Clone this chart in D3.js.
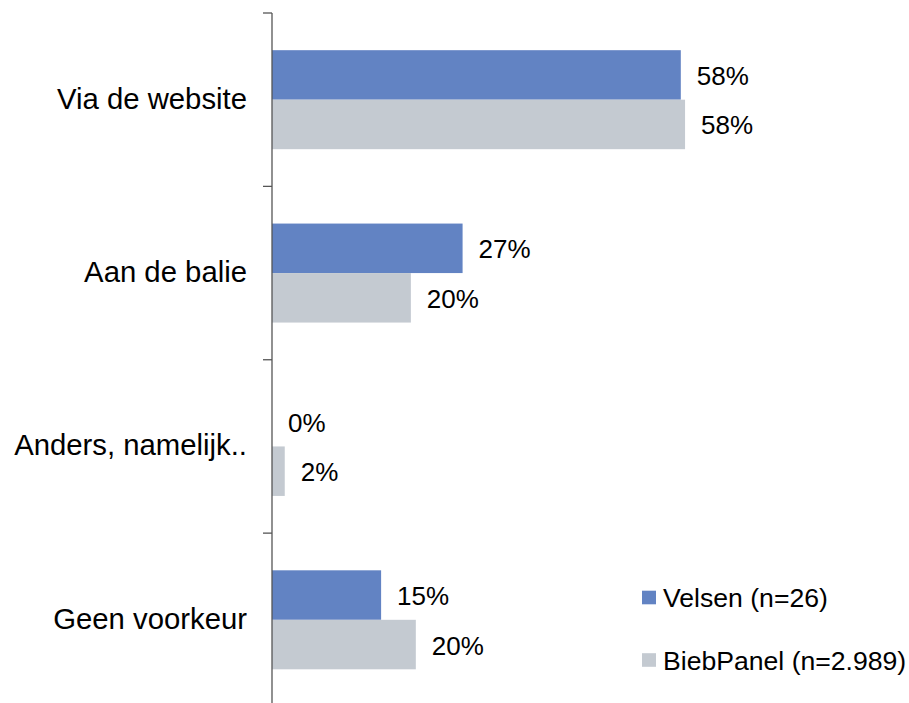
<!DOCTYPE html>
<html>
<head>
<meta charset="utf-8">
<script src="https://cdn.jsdelivr.net/npm/d3@7/dist/d3.min.js"></script>
<style>
  html, body { margin: 0; padding: 0; background: #fff; }
  svg { display: block; font-family: "Liberation Sans", Arial, sans-serif; }
</style>
</head>
<body>
<svg id="chart" width="909" height="703"></svg>
<script>
// ---- data ----
const categories = ["Via de website", "Aan de balie", "Anders, namelijk..", "Geen voorkeur"];
const velsen = [57.7, 26.9, 0, 15.4];
const biebpanel = [58.3, 19.6, 1.8, 20.3];
const seriesNames = ["Velsen (n=26)", "BiebPanel (n=2.989)"];
const seriesColors = ["#6283C3", "#C4CAD1"];

// ---- layout ----
const svg = d3.select("#chart");
const axisX = 272;
const y = d3.scaleBand().domain(categories).range([13, 706.5]).paddingInner(0).paddingOuter(0);
const x = d3.scaleLinear().domain([0, 60]).range([axisX, axisX + 425.1]);

const groupH = 99;
const barH = groupH / 2;

const rows = categories.map((c, i) => ({ c, vals: [velsen[i], biebpanel[i]] }));

const g = svg.append("g");
rows.forEach(r => {
  const top = y(r.c) + (y.bandwidth() - groupH) / 2;
  r.vals.forEach((v, s) => {
    const by = top + s * barH;
    if (v > 0) {
      g.append("rect")
        .attr("x", x(0))
        .attr("y", by)
        .attr("width", x(v) - x(0))
        .attr("height", barH)
        .attr("fill", seriesColors[s]);
    }
    g.append("text")
      .attr("x", x(v) + 16)
      .attr("y", by + barH / 2 + 10)
      .attr("font-size", 26)
      .attr("fill", "#000")
      .text(Math.round(v) + "%");
  });
});

// axis with ticks at band boundaries
const axG = svg.append("g").attr("transform", `translate(${axisX},0)`);
axG.append("line").attr("x1", 0).attr("x2", 0).attr("y1", 13).attr("y2", 706.5)
  .attr("stroke", "#555").attr("stroke-width", 1.3);
const bounds = categories.map(c => y(c)).concat([y(categories[categories.length - 1]) + y.bandwidth()]);
axG.selectAll("line.tick").data(bounds).enter().append("line")
  .attr("class", "tick")
  .attr("x1", -9).attr("x2", 0)
  .attr("y1", d => d).attr("y2", d => d)
  .attr("stroke", "#555").attr("stroke-width", 1.3);

// category labels
svg.append("g").selectAll("text").data(categories).enter().append("text")
  .attr("x", 247)
  .attr("y", d => y(d) + y.bandwidth() / 2 + 9)
  .attr("text-anchor", "end")
  .attr("font-size", 29.3)
  .attr("fill", "#000")
  .text(d => d);

// legend
const legY = [597.5, 660];
const leg = svg.append("g");
seriesNames.forEach((n, i) => {
  leg.append("rect").attr("x", 642).attr("y", legY[i] - 6.8).attr("width", 14).attr("height", 13.6)
    .attr("fill", seriesColors[i]);
  leg.append("text").attr("x", 663).attr("y", legY[i] + 9.5)
    .attr("font-size", 26.6).attr("fill", "#000").text(n);
});
</script>
</body>
</html>
